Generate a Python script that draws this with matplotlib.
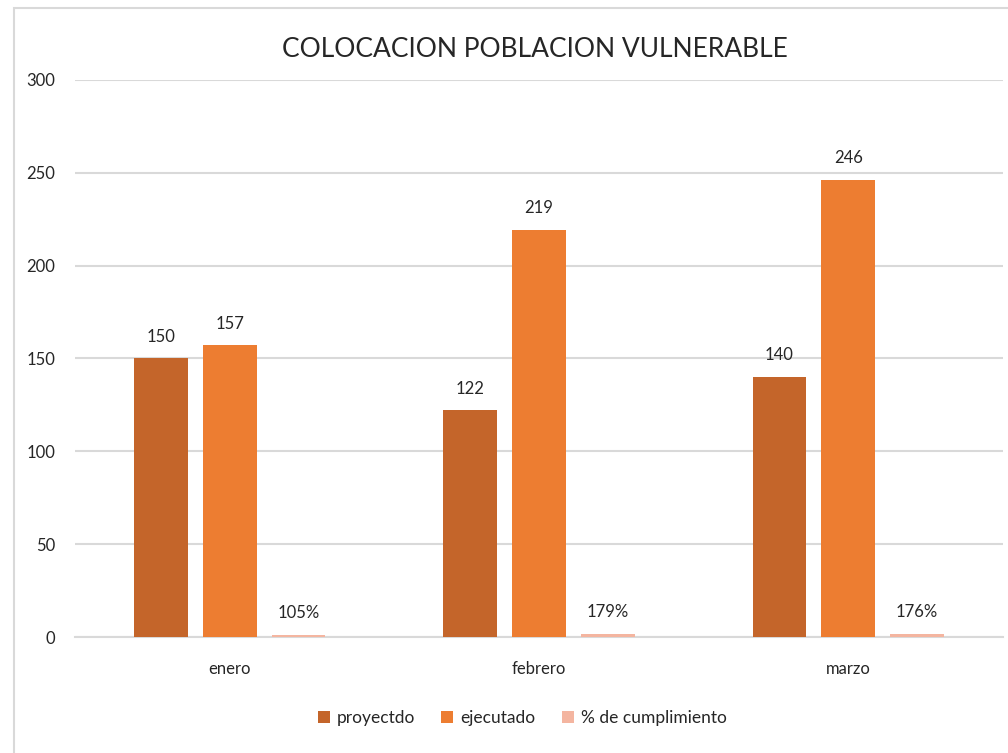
import numpy as np
import matplotlib.pyplot as plt
from matplotlib.patches import Rectangle

# datos
meses = ['enero', 'febrero', 'marzo']
proyectado = [150, 122, 140]
ejecutado = [157, 219, 246]
cumplimiento = [1.05, 1.79, 1.76]
etiq_cumpl = ['105%', '179%', '176%']
series = ['proyectdo', 'ejecutado', '% de cumplimiento']
colores = ['#C4652A', '#ED7D31', '#F4B5A0']

plt.rcParams['font.family'] = ['Lato', 'DejaVu Sans']

fig = plt.figure(figsize=(10.08, 7.53), dpi=100)
ax = fig.add_axes([0.0744, 0.154, 0.9206, 0.740])

# borde del grafico
fig.patches.append(Rectangle((0.0139, -0.01), 1.0, 0.999, transform=fig.transFigure,
                             fill=False, edgecolor='#D9D9D9', linewidth=1.5))

x = np.arange(len(meses))
w = 0.174
paso = 0.2226
b1 = ax.bar(x - paso, proyectado, w, color=colores[0], label=series[0], zorder=3)
b2 = ax.bar(x, ejecutado, w, color=colores[1], label=series[1], zorder=3)
b3 = ax.bar(x + paso, cumplimiento, w, color=colores[2], label=series[2], zorder=3)

for barras, textos in [(b1, [str(v) for v in proyectado]),
                       (b2, [str(v) for v in ejecutado]),
                       (b3, etiq_cumpl)]:
    for b, t in zip(barras, textos):
        ax.annotate(t, (b.get_x() + b.get_width() / 2, b.get_height()),
                    xytext=(0, 10), textcoords='offset points',
                    ha='center', va='bottom', fontsize=12, color='#262626')

ax.set_xlim(-0.5, 2.5)
ax.set_ylim(0, 300)
ax.set_yticks(range(0, 301, 50))
ax.set_xticks(x)
ax.set_xticklabels(meses)
ax.yaxis.grid(True, color='#D9D9D9', linewidth=1.5, zorder=0)
ax.tick_params(axis='both', length=0, labelsize=12, colors='#262626')
ax.tick_params(axis='y', pad=14)
ax.tick_params(axis='x', pad=17)
for s in ['top', 'right', 'left']:
    ax.spines[s].set_visible(False)
ax.spines['bottom'].set_color('#D9D9D9')
ax.spines['bottom'].set_linewidth(1.5)

fig.text(0.531, 0.934, 'COLOCACION POBLACION VULNERABLE', ha='center', va='center',
         fontsize=19, color='#262626')

fig.legend(loc='center', bbox_to_anchor=(0.518, 0.046), ncol=3, frameon=False,
           fontsize=12.5, handlelength=0.7, handleheight=0.7, handletextpad=0.4,
           columnspacing=1.5, labelcolor='#262626')

fig.savefig('out.png', dpi=100)
